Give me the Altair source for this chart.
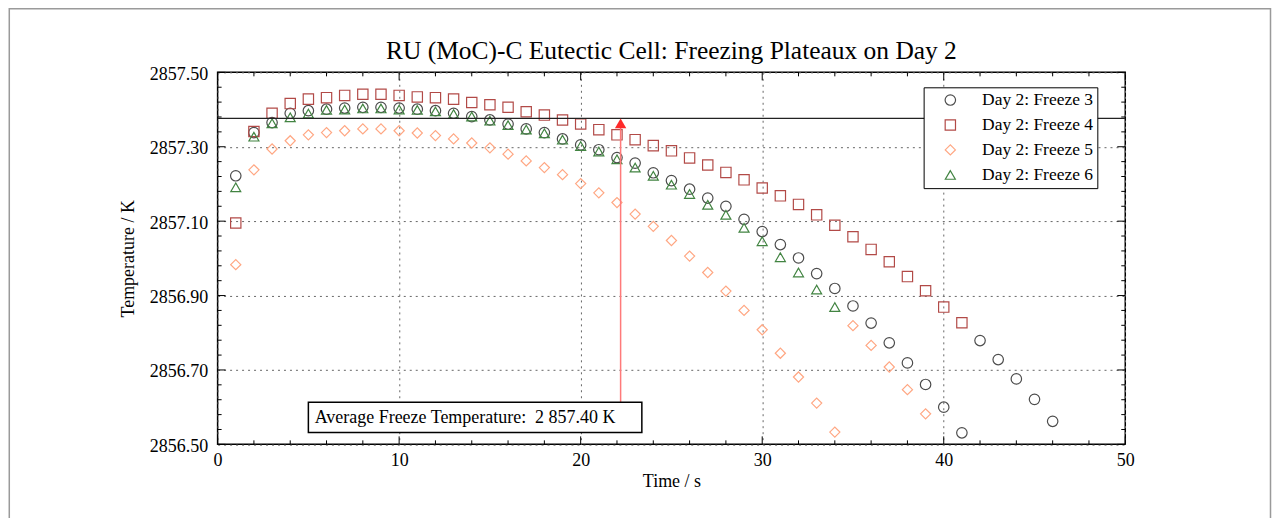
import altair as alt
import pandas as pd

# ---------------- data ----------------
series_names = ["Day 2: Freeze 3", "Day 2: Freeze 4", "Day 2: Freeze 5", "Day 2: Freeze 6"]
series_shapes = ["circle", "square", "diamond", "triangle-up"]
series_colors = ["#4d4d4d", "#b24a47", "#ffa783", "#428442"]
series_sizes = [110, 100, 260, 120]

freeze3 = [2857.222, 2857.338, 2857.365, 2857.390, 2857.397, 2857.401, 2857.404, 2857.406, 2857.406, 2857.404,
           2857.401, 2857.397, 2857.390, 2857.381, 2857.372, 2857.361, 2857.348, 2857.338, 2857.321, 2857.305,
           2857.292, 2857.271, 2857.256, 2857.230, 2857.209, 2857.186, 2857.162, 2857.140, 2857.105, 2857.072,
           2857.037, 2857.001, 2856.959, 2856.919, 2856.872, 2856.826, 2856.773, 2856.719, 2856.661, 2856.600,
           2856.531, 2856.779, 2856.728, 2856.676, 2856.621, 2856.562]
freeze4 = [2857.095, 2857.341, 2857.390, 2857.416, 2857.428, 2857.432, 2857.438, 2857.441, 2857.441, 2857.438,
           2857.434, 2857.432, 2857.428, 2857.419, 2857.413, 2857.406, 2857.394, 2857.385, 2857.372, 2857.361,
           2857.346, 2857.332, 2857.319, 2857.303, 2857.289, 2857.270, 2857.251, 2857.231, 2857.211, 2857.189,
           2857.168, 2857.145, 2857.117, 2857.089, 2857.058, 2857.024, 2856.991, 2856.951, 2856.913, 2856.869,
           2856.827]
freeze5 = [2856.983, 2857.238, 2857.294, 2857.316, 2857.332, 2857.338, 2857.343, 2857.348, 2857.348, 2857.343,
           2857.337, 2857.330, 2857.321, 2857.310, 2857.297, 2857.280, 2857.262, 2857.244, 2857.225, 2857.201,
           2857.176, 2857.150, 2857.119, 2857.086, 2857.048, 2857.006, 2856.962, 2856.912, 2856.860, 2856.808,
           2856.745, 2856.681, 2856.611, 2856.533, 2856.819, 2856.766, 2856.708, 2856.647, 2856.582]
freeze6 = [2857.191, 2857.327, 2857.363, 2857.379, 2857.389, 2857.399, 2857.400, 2857.403, 2857.403, 2857.400,
           2857.399, 2857.395, 2857.388, 2857.381, 2857.370, 2857.358, 2857.346, 2857.336, 2857.319, 2857.302,
           2857.287, 2857.266, 2857.244, 2857.222, 2857.198, 2857.173, 2857.144, 2857.117, 2857.082, 2857.046,
           2857.003, 2856.962, 2856.916, 2856.869]

x_major_ticks = [0, 10, 20, 30, 40, 50]
x_minor_ticks = [2, 4, 6, 8, 12, 14, 16, 18, 22, 24, 26, 28, 32, 34, 36, 38, 42, 44, 46, 48]
y_major_ticks = [2856.5, 2856.7, 2856.9, 2857.1, 2857.3, 2857.5]
y_minor_ticks = [2856.54, 2856.58, 2856.62, 2856.66, 2856.74, 2856.78, 2856.82, 2856.86,
                 2856.94, 2856.98, 2857.02, 2857.06, 2857.14, 2857.18, 2857.22, 2857.26,
                 2857.34, 2857.38, 2857.42, 2857.46]

title_text = ["RU (MoC)-C Eutectic Cell: Freezing Plateaux on Day 2"]
x_title = "Time / s"
y_title = "Temperature / K"
avg_line_value = [2857.376]
arrow_time = [22.2]
arrow_from = [2856.613]
arrow_to = [2857.363]
note_text = ["Average Freeze Temperature:\u00a0 2 857.40 K"]
note_box_x = [5.0]
note_box_x2 = [23.37]
note_box_y = [2856.532]
note_box_y2 = [2856.613]
note_text_x = [5.35]
note_text_y = [2856.572]

# ---------------- layout ----------------
W, H = 909.3, 372.7
SERIF = "Liberation Serif"

rows = []
for name, vals in zip(series_names, [freeze3, freeze4, freeze5, freeze6]):
    for i, v in enumerate(vals):
        rows.append({"series": name, "t": i + 1, "T": v})
df = pd.DataFrame(rows)

xs = alt.Scale(domain=[0, 50], nice=False, zero=False)
ys = alt.Scale(domain=[2856.5, 2857.5], nice=False, zero=False)
x_axis = alt.Axis(values=x_major_ticks, format="d", titlePadding=3, labelPadding=7, labelFlush=False)
y_axis = alt.Axis(values=y_major_ticks, format=".2f", titlePadding=12, labelPadding=10,
                  labelFlush=False, labelOffset=2)


def X(field):
    return alt.X(field, type="quantitative", scale=xs, axis=x_axis, title=x_title)


def Y(field):
    return alt.Y(field, type="quantitative", scale=ys, axis=y_axis, title=y_title)


points = alt.Chart(df).mark_point(filled=False, strokeWidth=1.2, opacity=1, clip=True).encode(
    x=X("t"),
    y=Y("T"),
    color=alt.Color("series:N", scale=alt.Scale(domain=series_names, range=series_colors),
                    legend=alt.Legend(orient="none", legendX=707.3, legendY=15, title=None,
                                      fillColor="white", strokeColor="black", padding=4,
                                      symbolOffset=14, labelOffset=23, labelFont=SERIF,
                                      labelFontSize=17.5, labelColor="black", rowPadding=6,
                                      symbolStrokeWidth=1.2, symbolSize=100)),
    shape=alt.Shape("series:N", scale=alt.Scale(domain=series_names, range=series_shapes)),
    size=alt.Size("series:O", scale=alt.Scale(domain=series_names, range=series_sizes), legend=None),
)


def tick_layer(vals, orient, length):
    d = pd.DataFrame({"v": vals})
    base = alt.Chart(d).mark_rule(color="black", strokeWidth=1)
    if orient == "bottom":
        return base.encode(x=X("v"), y=alt.value(H), y2=alt.value(H - length))
    if orient == "top":
        return base.encode(x=X("v"), y=alt.value(0), y2=alt.value(length))
    if orient == "left":
        return base.encode(y=Y("v"), x=alt.value(0), x2=alt.value(length))
    return base.encode(y=Y("v"), x=alt.value(W), x2=alt.value(W - length))


ticks = []
for o in ["bottom", "top"]:
    ticks.append(tick_layer(x_major_ticks, o, 8))
    ticks.append(tick_layer(x_minor_ticks, o, 4))
for o in ["left", "right"]:
    ticks.append(tick_layer(y_major_ticks, o, 8))
    ticks.append(tick_layer(y_minor_ticks, o, 4))

avg_line = alt.Chart(pd.DataFrame({"v": avg_line_value})).mark_rule(color="#222222", strokeWidth=1.2).encode(
    y=Y("v"))

arrow_df = pd.DataFrame({"x": arrow_time, "y": arrow_from, "y2": arrow_to})
arrow_shaft = alt.Chart(arrow_df).mark_rule(color="#ff7a7a", strokeWidth=1.5).encode(
    x=X("x"), y=Y("y"), y2="y2:Q")
arrow_head = alt.Chart(arrow_df).mark_point(shape="triangle-up", filled=True, color="#ff2a2a",
                                            size=130, opacity=1).encode(x=X("x"), y=Y("y2"))

box_df = pd.DataFrame({"x": note_box_x, "x2": note_box_x2, "y": note_box_y, "y2": note_box_y2,
                       "tx": note_text_x, "ty": note_text_y, "label": note_text})
note_box = alt.Chart(box_df).mark_rect(fill="white", stroke="black", strokeWidth=1.5).encode(
    x=X("x"), x2="x2:Q", y=Y("y"), y2="y2:Q")
note_label = alt.Chart(box_df).mark_text(align="left", baseline="middle", font=SERIF, fontSize=18,
                                         color="black").encode(x=X("tx"), y=Y("ty"), text="label:N")

title_mark = alt.Chart(pd.DataFrame({"label": title_text})).mark_text(
    align="center", baseline="alphabetic", font=SERIF, fontSize=25.5, color="black").encode(
    x=alt.value(W / 2), y=alt.value(-13), text="label:N")

outer = alt.Chart(pd.DataFrame({"a": [0]})).mark_rect(fill="white", fillOpacity=0, stroke="#9a9a9a",
                                                       strokeWidth=1.5).encode(
    x=alt.value(-208.7), x2=alt.value(1054.8), y=alt.value(-63.7), y2=alt.value(452))

chart = alt.layer(outer, points, *ticks, avg_line, arrow_shaft, arrow_head, note_box, note_label,
                  title_mark).properties(
    width=W, height=H,
    padding={"left": 8, "top": 7, "right": 2, "bottom": 0},
    background="white",
).configure_view(stroke="black", strokeWidth=1.5).configure_axis(
    labelFont=SERIF, labelFontSize=18, labelColor="black", titleFont=SERIF, titleFontSize=18,
    titleFontWeight="normal", titleColor="black", ticks=False, domain=False,
    grid=True, gridDash=[2, 4], gridColor="#666666", gridWidth=1, gridOpacity=1,
)

chart.save("out.html", embed_options={"renderer": "svg", "actions": False})
